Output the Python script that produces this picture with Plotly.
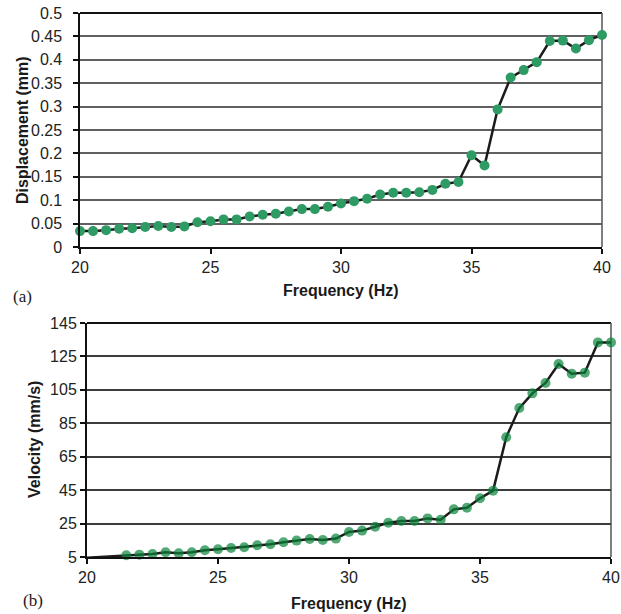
import plotly.graph_objects as go

# ---- data ----
freq_a = [20, 20.5, 21, 21.5, 22, 22.5, 23, 23.5, 24, 24.5, 25, 25.5, 26, 26.5, 27, 27.5,
          28, 28.5, 29, 29.5, 30, 30.5, 31, 31.5, 32, 32.5, 33, 33.5, 34, 34.5, 35, 35.5,
          36, 36.5, 37, 37.5, 38, 38.5, 39, 39.5, 40]
disp = [0.034, 0.034, 0.036, 0.039, 0.040, 0.043, 0.045, 0.043, 0.044, 0.053, 0.055, 0.059,
        0.059, 0.065, 0.069, 0.071, 0.076, 0.081, 0.081, 0.086, 0.093, 0.098, 0.103, 0.112,
        0.116, 0.116, 0.117, 0.122, 0.135, 0.139, 0.196, 0.174, 0.294, 0.362, 0.378, 0.395,
        0.440, 0.441, 0.424, 0.442, 0.453]

freq_b = [20, 21.5, 22, 22.5, 23, 23.5, 24, 24.5, 25, 25.5, 26, 26.5, 27, 27.5, 28, 28.5,
          29, 29.5, 30, 30.5, 31, 31.5, 32, 32.5, 33, 33.5, 34, 34.5, 35, 35.5, 36, 36.5,
          37, 37.5, 38, 38.5, 39, 39.5, 40]
vel = [4.6, 6.0, 6.4, 6.8, 7.8, 7.2, 7.8, 9.0, 9.6, 10.4, 10.8, 12.0, 12.6, 13.8, 14.8, 15.8,
       15.2, 16.0, 20.0, 20.8, 23.1, 25.5, 26.5, 26.5, 28.1, 27.3, 33.5, 34.5, 40.1, 44.7,
       76.6, 94.1, 102.9, 109.1, 120.5, 114.7, 115.3, 133.4, 133.4]

x_ticks = [20, 25, 30, 35, 40]
disp_ticks = [0, 0.05, 0.1, 0.15, 0.2, 0.25, 0.3, 0.35, 0.4, 0.45, 0.5]
disp_labels = ["0", "0.05", "0.1", "0.15", "0.2", "0.25", "0.3", "0.35", "0.4", "0.45", "0.5"]
vel_ticks = [5, 25, 45, 65, 85, 105, 125, 145]

W, H = 621, 614
FONT = "Liberation Sans, Arial, sans-serif"

def px_x(p):
    return p / W

def px_y(p):
    return 1 - p / H

# plot area pixel boxes
A = dict(l=80, r=602, t=13, b=247)
B = dict(l=87, r=611, t=323, b=557)

fig = go.Figure()

fig.add_trace(go.Scatter(
    x=freq_a, y=disp, mode="lines+markers", xaxis="x", yaxis="y",
    line=dict(color="#1e1a1a", width=2.5),
    marker=dict(color="#2e9a64", size=10, line=dict(width=0)),
    showlegend=False, cliponaxis=False))

sizes_b = [0] + [10] * (len(freq_b) - 1)
fig.add_trace(go.Scatter(
    x=freq_b, y=vel, mode="lines+markers", xaxis="x2", yaxis="y2",
    line=dict(color="#1e1a1a", width=2.5),
    marker=dict(color="#08843a", size=sizes_b, line=dict(width=0)),
    showlegend=False, cliponaxis=False))

tickfont = dict(family=FONT, size=16, color="#222222")

common_x = dict(range=[20, 40], tickvals=x_ticks, ticks="outside", ticklen=5, tickwidth=1.5,
                tickcolor="#111111", showline=True, linecolor="#111111", linewidth=2,
                showgrid=False, zeroline=False, tickfont=tickfont, fixedrange=True,
                automargin=False)
common_y = dict(ticks="outside", ticklen=5, tickwidth=1.5, tickcolor="#111111",
                showline=True, linecolor="#111111", linewidth=2, zeroline=False,
                tickfont=tickfont, fixedrange=True, gridwidth=1.5, automargin=False)

fig.update_layout(
    width=W, height=H, margin=dict(l=0, r=0, t=0, b=0, autoexpand=False),
    paper_bgcolor="white", plot_bgcolor="white",
    xaxis=dict(domain=[px_x(A["l"]), px_x(A["r"])], anchor="y", **common_x),
    yaxis=dict(domain=[px_y(A["b"]), px_y(A["t"])], anchor="x", range=[0, 0.5],
               tickvals=disp_ticks, ticktext=[t + "\u00a0\u2009" for t in disp_labels],
               showgrid=True, gridcolor="#606060", **common_y),
    xaxis2=dict(domain=[px_x(B["l"]), px_x(B["r"])], anchor="y2", **common_x),
    yaxis2=dict(domain=[px_y(B["b"]), px_y(B["t"])], anchor="x2", range=[5, 145],
                tickvals=vel_ticks, showgrid=True, gridcolor="#3c3c3c", **common_y),
)

# top and right borders
for (xr, yr) in [("x domain", "y domain"), ("x2 domain", "y2 domain")]:
    fig.add_shape(type="line", xref=xr, yref=yr, x0=0, x1=1, y0=1, y1=1,
                  line=dict(color="#111111", width=2), layer="below")
    fig.add_shape(type="line", xref=xr, yref=yr, x0=1, x1=1, y0=0, y1=1,
                  line=dict(color="#555555", width=1.5), layer="below")

title_font = dict(family=FONT, size=16, color="#1a1a1a")
annots = [
    dict(text="<b>Frequency (Hz)</b>", x=px_x((A["l"] + A["r"]) / 2), y=px_y(290)),
    dict(text="<b>Frequency (Hz)</b>", x=px_x((B["l"] + B["r"]) / 2), y=px_y(603)),
    dict(text="<b>Displacement (mm)</b>", x=px_x(22), y=px_y((A["t"] + A["b"]) / 2), textangle=-90),
    dict(text="<b>Velocity (mm/s)</b>", x=px_x(34), y=px_y((B["t"] + B["b"]) / 2), textangle=-90),
]
for a in annots:
    fig.add_annotation(xref="paper", yref="paper", showarrow=False, xanchor="center",
                       yanchor="middle", font=title_font, **a)

label_font = dict(family="Liberation Serif, Times New Roman, serif", size=17, color="#1a1a1a")
fig.add_annotation(text="(a)", x=px_x(11), y=px_y(296), xref="paper", yref="paper",
                   showarrow=False, xanchor="left", yanchor="middle", font=label_font)
fig.add_annotation(text="(b)", x=px_x(21), y=px_y(600), xref="paper", yref="paper",
                   showarrow=False, xanchor="left", yanchor="middle", font=label_font)

fig.write_html("out.html")
